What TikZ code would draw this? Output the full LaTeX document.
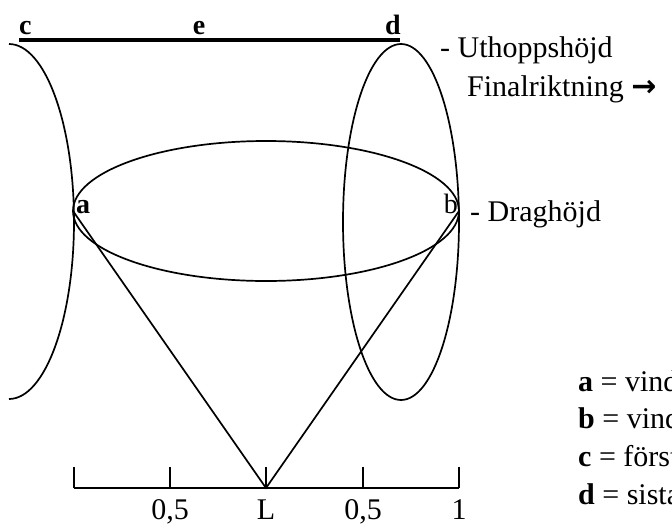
\documentclass[tikz,border=0pt]{standalone}
\usepackage{fontspec}
\setmainfont{Liberation Serif}
\newfontfamily\arrowfont{DejaVu Sans}
\tikzset{
  lbl/.style={inner sep=0pt, font=\fontsize{28}{32}\selectfont\bfseries},
  txt/.style={inner sep=0pt, font=\fontsize{30}{36}\selectfont},
  curve/.style={line width=1.7pt},
  axis/.style={line width=1.5pt}
}
\begin{document}
\begin{tikzpicture}[x=1pt,y=-1pt]
\useasboundingbox (0,0) rectangle (672,525);
\clip (0,0) rectangle (672,525);
% top line
\coordinate (cl) at (19,40);
\coordinate (dr) at (400,40);
\draw[line width=3.4pt] (cl) -- (dr);
\node[lbl, anchor=base west] (c) at (19,34) {c};
\node[lbl, anchor=base] (e) at (199,34) {e};
\node[lbl, anchor=base east] (d) at (401,34) {d};
% left arc
\draw[curve] (9,44) arc[start angle=-90, end angle=90, x radius=65, y radius=177.5];
% right ellipse
\draw[curve] (401,222) ellipse [x radius=58, y radius=178];
% horizontal ellipse
\coordinate (a) at (73,211);
\coordinate (b) at (459,211);
\draw[curve] (266,211) ellipse [x radius=193, y radius=70];
\node[lbl, anchor=base west] (la) at (76,213) {a};
\node[lbl, anchor=base east, font=\fontsize{28}{32}\selectfont] (lb) at (458,213) {b};
% V
\coordinate (L) at (266,488);
\draw[curve] (a) -- (L) -- (b);
% axis
\coordinate (x0) at (74,488);
\coordinate (x1) at (170,488);
\coordinate (x3) at (363,488);
\coordinate (x4) at (459,488);
\draw[axis] (x0) -- (x4);
\foreach \p in {x0,x1,L,x3,x4} \draw[axis] (\p) -- ++(0,-21);
\node[txt, anchor=base] (t1) at (170,519) {0,5};
\node[txt, anchor=base] (t2) at (266,519) {L};
\node[txt, anchor=base] (t3) at (363,519) {0,5};
\node[txt, anchor=base] (t4) at (459,519) {1};
% right texts
\node[txt, anchor=base west] (uth) at (440,57) {- Uthoppshöjd};
\node[txt, anchor=base west] (fin) at (467,96) {Finalriktning {\arrowfont\bfseries →}};
\node[txt, anchor=base west] (dra) at (470,221) {- Draghöjd};
% legend
\node[txt, anchor=base west] (l1) at (578,391) {\textbf{a} = vind};
\node[txt, anchor=base west] (l2) at (578,428) {\textbf{b} = vind};
\node[txt, anchor=base west] (l3) at (578,466) {\textbf{c} = första};
\node[txt, anchor=base west] (l4) at (578,504) {\textbf{d} = sista};
\end{tikzpicture}
\end{document}
